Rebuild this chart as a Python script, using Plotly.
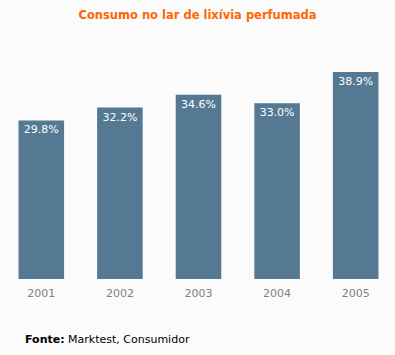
import plotly.graph_objects as go

years = ["2001", "2002", "2003", "2004", "2005"]
values = [29.8, 32.2, 34.6, 33.0, 38.9]
labels = ["29.8%", "32.2%", "34.6%", "33.0%", "38.9%"]

title = "Consumo no lar de lixívia perfumada"
source_bold = "Fonte:"
source_text = " Marktest, Consumidor"

BG = "#FBFBFB"
BAR = "#557993"
FONT = "DejaVu Sans, Verdana, sans-serif"

fig = go.Figure(
    go.Bar(
        x=years,
        y=values,
        text=labels,
        textposition="inside",
        insidetextanchor="end",
        textangle=0,
        constraintext="none",
        textfont=dict(color="white", size=11, family=FONT),
        marker=dict(color=BAR, line=dict(width=0)),
        width=0.58,
        hoverinfo="skip",
    )
)

fig.update_layout(
    width=395,
    height=355,
    margin=dict(l=2, r=0, t=40, b=76),
    paper_bgcolor=BG,
    plot_bgcolor=BG,
    showlegend=False,
    font=dict(family=FONT),
    title=dict(
        text="<b>" + title + "</b>",
        x=0.5,
        xanchor="center",
        y=1 - 15 / 355,
        yanchor="middle",
        font=dict(color="#FF6600", size=11.5, family=FONT),
    ),
    xaxis=dict(
        type="category",
        showgrid=False,
        showline=False,
        zeroline=False,
        ticks="",
        tickfont=dict(color="#808080", size=11, family=FONT),
        ticklabelstandoff=6,
        fixedrange=True,
    ),
    yaxis=dict(
        range=[0, 44.9],
        visible=False,
        fixedrange=True,
    ),
    annotations=[
        dict(
            text="<b>" + source_bold + "</b>" + source_text,
            xref="paper",
            yref="paper",
            x=(23 - 2) / 393,
            xanchor="left",
            y=-(339 - 279) / 239,
            yanchor="middle",
            showarrow=False,
            font=dict(color="#000000", size=11, family=FONT),
        )
    ],
)

fig.write_html(
    "out.html",
    config={"displayModeBar": False},
    post_script="document.body.style.margin='0';document.body.style.overflow='hidden';document.body.style.background='#FBFBFB';",
)
